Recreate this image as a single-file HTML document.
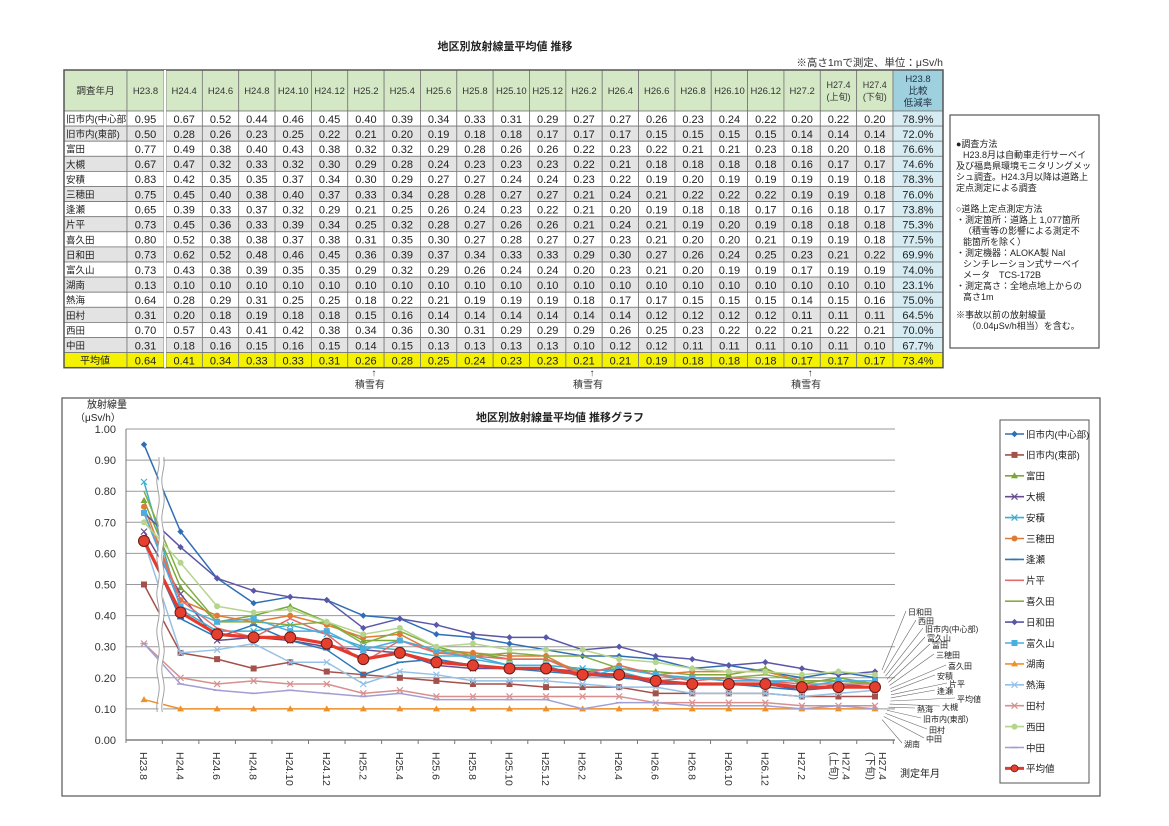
<!DOCTYPE html>
<html><head><meta charset="utf-8">
<style>
html,body{margin:0;padding:0;background:#fff;}
svg{display:block;font-family:"Liberation Sans","Noto Sans CJK JP",sans-serif;}
</style></head>
<body>
<svg id="root" width="1169" height="826" viewBox="0 0 1169 826" xmlns="http://www.w3.org/2000/svg">
<rect x="0" y="0" width="1169" height="826" fill="#fff"/>
<text x="505" y="50" font-size="11" font-weight="bold" text-anchor="middle" fill="#222">地区別放射線量平均値 推移</text>
<text x="943" y="66" font-size="10.5" text-anchor="end" fill="#333">※高さ1mで測定、単位：μSv/h</text>
<g id="table"></g>
<g>
<rect x="950" y="115" width="149" height="233" fill="#fff" stroke="#555" stroke-width="1.2"/>
<g font-size="9" fill="#222">
<text x="956" y="147">●調査方法</text>
<text x="963" y="158">H23.8月は自動車走行サーベイ</text>
<text x="956" y="169">及び福島県環境モニタリングメッ</text>
<text x="956" y="180">シュ調査。H24.3月以降は道路上</text>
<text x="956" y="191">定点測定による調査</text>
<text x="956" y="212">○道路上定点測定方法</text>
<text x="956" y="223">・測定箇所：道路上 1,077箇所</text>
<text x="963" y="234">（積雪等の影響による測定不</text>
<text x="963" y="245">能箇所を除く）</text>
<text x="956" y="256">・測定機器：ALOKA製 NaI</text>
<text x="963" y="267">シンチレーション式サーベイ</text>
<text x="963" y="278">メータ　TCS-172B</text>
<text x="956" y="289">・測定高さ：全地点地上からの</text>
<text x="963" y="300">高さ1m</text>
<text x="956" y="318">※事故以前の放射線量</text>
<text x="967" y="329">（0.04μSv/h相当）を含む。</text>
</g></g>
<g id="snow"></g>
<rect x="62" y="398" width="1038" height="398" fill="none" stroke="#555" stroke-width="1.2"/>
<text x="560" y="421" font-size="11" font-weight="bold" text-anchor="middle" fill="#222">地区別放射線量平均値 推移グラフ</text>
<text x="87" y="408" font-size="10" fill="#222">放射線量</text>
<text x="75" y="421" font-size="10" fill="#222">（μSv/h）</text>
<text x="900" y="777" font-size="10" fill="#222">測定年月</text>
<g id="chart"></g>
<g id="legend"><rect x="1000" y="420" width="89" height="363" fill="#fff" stroke="#555"/></g>
<g id="callouts"></g>
</svg>
<script>
const cats=["H23.8","H24.4","H24.6","H24.8","H24.10","H24.12","H25.2","H25.4","H25.6","H25.8","H25.10","H25.12","H26.2","H26.4","H26.6","H26.8","H26.10","H26.12","H27.2","H27.4(上旬)","H27.4(下旬)"];
const names=["旧市内(中心部)","旧市内(東部)","富田","大槻","安積","三穂田","逢瀬","片平","喜久田","日和田","富久山","湖南","熱海","田村","西田","中田","平均値"];
const sChushin=[0.95,0.67,0.52,0.44,0.46,0.45,0.40,0.39,0.34,0.33,0.31,0.29,0.27,0.27,0.26,0.23,0.24,0.22,0.20,0.22,0.20];
const sToubu=[0.50,0.28,0.26,0.23,0.25,0.22,0.21,0.20,0.19,0.18,0.18,0.17,0.17,0.17,0.15,0.15,0.15,0.15,0.14,0.14,0.14];
const sTomita=[0.77,0.49,0.38,0.40,0.43,0.38,0.32,0.32,0.29,0.28,0.26,0.26,0.22,0.23,0.22,0.21,0.21,0.23,0.18,0.20,0.18];
const sOtsuki=[0.67,0.47,0.32,0.33,0.32,0.30,0.29,0.28,0.24,0.23,0.23,0.23,0.22,0.21,0.18,0.18,0.18,0.18,0.16,0.17,0.17];
const sAsaka=[0.83,0.42,0.35,0.35,0.37,0.34,0.30,0.29,0.27,0.27,0.24,0.24,0.23,0.22,0.19,0.20,0.19,0.19,0.19,0.19,0.18];
const sMihota=[0.75,0.45,0.40,0.38,0.40,0.37,0.33,0.34,0.28,0.28,0.27,0.27,0.21,0.24,0.21,0.22,0.22,0.22,0.19,0.19,0.18];
const sOuse=[0.65,0.39,0.33,0.37,0.32,0.29,0.21,0.25,0.26,0.24,0.23,0.22,0.21,0.20,0.19,0.18,0.18,0.17,0.16,0.18,0.17];
const sKatahira=[0.73,0.45,0.36,0.33,0.39,0.34,0.25,0.32,0.28,0.27,0.26,0.26,0.21,0.24,0.21,0.19,0.20,0.19,0.18,0.18,0.18];
const sKikuta=[0.80,0.52,0.38,0.38,0.37,0.38,0.31,0.35,0.30,0.27,0.28,0.27,0.27,0.23,0.21,0.20,0.20,0.21,0.19,0.19,0.18];
const sHiwada=[0.73,0.62,0.52,0.48,0.46,0.45,0.36,0.39,0.37,0.34,0.33,0.33,0.29,0.30,0.27,0.26,0.24,0.25,0.23,0.21,0.22];
const sFukuyama=[0.73,0.43,0.38,0.39,0.35,0.35,0.29,0.32,0.29,0.26,0.24,0.24,0.20,0.23,0.21,0.20,0.19,0.19,0.17,0.19,0.19];
const sKonan=[0.13,0.10,0.10,0.10,0.10,0.10,0.10,0.10,0.10,0.10,0.10,0.10,0.10,0.10,0.10,0.10,0.10,0.10,0.10,0.10,0.10];
const sAtami=[0.64,0.28,0.29,0.31,0.25,0.25,0.18,0.22,0.21,0.19,0.19,0.19,0.18,0.17,0.17,0.15,0.15,0.15,0.14,0.15,0.16];
const sTamura=[0.31,0.20,0.18,0.19,0.18,0.18,0.15,0.16,0.14,0.14,0.14,0.14,0.14,0.14,0.12,0.12,0.12,0.12,0.11,0.11,0.11];
const sNishita=[0.70,0.57,0.43,0.41,0.42,0.38,0.34,0.36,0.30,0.31,0.29,0.29,0.29,0.26,0.25,0.23,0.22,0.22,0.21,0.22,0.21];
const sNakata=[0.31,0.18,0.16,0.15,0.16,0.15,0.14,0.15,0.13,0.13,0.13,0.13,0.10,0.12,0.12,0.11,0.11,0.11,0.10,0.11,0.10];
const sAverage=[0.64,0.41,0.34,0.33,0.33,0.31,0.26,0.28,0.25,0.24,0.23,0.23,0.21,0.21,0.19,0.18,0.18,0.18,0.17,0.17,0.17];
const ratios=["78.9%","72.0%","76.6%","74.6%","78.3%","76.0%","73.8%","75.3%","77.5%","69.9%","74.0%","23.1%","75.0%","64.5%","70.0%","67.7%","73.4%"];
const yTicks=[0,0.1,0.2,0.3,0.4,0.5,0.6,0.7,0.8,0.9,1.0];
const series=[sChushin,sToubu,sTomita,sOtsuki,sAsaka,sMihota,sOuse,sKatahira,sKikuta,sHiwada,sFukuyama,sKonan,sAtami,sTamura,sNishita,sNakata,sAverage];
const colors=["#2f6eb5","#a4514c","#7aa63a","#6a4c8e","#3eaed0","#e07b35","#2b78b8","#e66a6a","#86ad45","#5b57a8","#4aaee0","#f0902a","#95c1e6","#d7908e","#b5d58c","#a39ed2","#e43a2e"];
const markers=["diamond","square","triangle","x","x","circle","plus","none","none","diamond","square","triangle","x","x","circle","plus","big"];
const NS="http://www.w3.org/2000/svg";
function mk(tag,attrs,parent){const e=document.createElementNS(NS,tag);for(const k in attrs)e.setAttribute(k,attrs[k]);parent.appendChild(e);return e;}
// ---------- table ----------
const tbl=document.getElementById('table');
const rowTop=111,rowH=15.1,hdrTop=70;
const colEdges=[64,127,164];
for(let k=0;k<=20;k++)colEdges.push(166+k*36.35);
colEdges.push(943);
function cellRect(x1,x2,y1,y2,fill){return mk('rect',{x:x1,y:y1,width:x2-x1,height:y2-y1,fill:fill,stroke:'#777','stroke-width':0.8},tbl);}
// header
const hdrs=["調査年月"].concat(cats);
for(let j=0;j<hdrs.length;j++){
  let x1,x2;
  if(j===0){x1=64;x2=127;}else if(j===1){x1=127;x2=164;}else{x1=colEdges[j+1];x2=colEdges[j+2];}
  const r=cellRect(x1,x2,hdrTop,rowTop,'#d5e8c6');
  
  
  const label=hdrs[j];
  const m=label.match(/^(H27\.4)\((.+)\)$/);
  if(m){
    const t1=mk('text',{x:(x1+x2)/2,y:88,'font-size':9,'text-anchor':'middle',fill:'#333'},tbl);t1.textContent=m[1];
    const t2=mk('text',{x:(x1+x2)/2,y:100,'font-size':9,'text-anchor':'middle',fill:'#333'},tbl);t2.textContent='('+m[2]+')';
    
    
  }else{
    const t=mk('text',{x:(x1+x2)/2,y:94,'font-size':j===0?9.5:9.5,'text-anchor':'middle',fill:'#333'},tbl);t.textContent=label;
    
    
  }
}
const rh=cellRect(893,943,hdrTop,rowTop,'#9fd0de');


[["H23.8",82],["比較",94],["低減率",106]].forEach(a=>{const t=mk('text',{x:918,y:a[1],'font-size':9.5,'text-anchor':'middle',fill:'#234'},tbl);t.textContent=a[0];});
// body rows
for(let r=0;r<17;r++){
  const y1=rowTop+r*rowH,y2=y1+rowH;
  const isAvg=r===16;
  const bg=isAvg?'#f4f200':(r%2===1?'#e3e3e3':'#fff');
  const lc=cellRect(64,127,y1,y2,bg);
  
  
  const lt=mk('text',{x:isAvg?95:66,y:y1+11.5,'font-size':isAvg?10:9.5,'text-anchor':isAvg?'middle':'start',fill:'#222'},tbl);
  lt.textContent=names[r];
  
  
  for(let i=0;i<21;i++){
    let x1,x2;
    if(i===0){x1=127;x2=164;}else{x1=colEdges[i+2];x2=colEdges[i+3];}
    const c=cellRect(x1,x2,y1,y2,bg);
    
    
    const t=mk('text',{x:(x1+x2)/2,y:y1+11.8,'font-size':11,'text-anchor':'middle',fill:'#222'},tbl);
    t.textContent=series[r][i].toFixed(2);
  }
  const rc=cellRect(893,943,y1,y2,isAvg?'#f4f200':'#d6ecf2');
  
  
  const rt=mk('text',{x:918,y:y1+11.8,'font-size':11,'text-anchor':'middle',fill:'#222'},tbl);
  rt.textContent=ratios[r];
}
mk('rect',{x:64,y:hdrTop,width:879,height:rowTop+17*rowH-hdrTop,fill:'none',stroke:'#555','stroke-width':1.5},tbl);
mk('rect',{x:164,y:hdrTop,width:2,height:rowTop+17*rowH-hdrTop,fill:'#fff'},tbl);
// snow notes
const snowCols=["H25.2","H26.2","H27.2"];
const snowG=document.getElementById('snow');
snowCols.forEach(c=>{
  const i=cats.indexOf(c);
  const cx=(colEdges[i+2]+colEdges[i+3])/2+8;
  const a=mk('text',{x:cx,y:376,'font-size':10,'text-anchor':'middle',fill:'#333'},snowG);a.textContent='↑';
  const t=mk('text',{x:cx-4,y:388,'font-size':10,'text-anchor':'middle',fill:'#333'},snowG);t.textContent='積雪有';
  
  
});
// ---------- chart ----------
const ch=document.getElementById('chart');
const X=i=>144+i*36.55;
const Y=v=>740-v*311;
yTicks.forEach(v=>{
  const g=mk('line',{x1:126,x2:895,y1:Y(v),y2:Y(v),stroke:v===0?'#666':'#999','stroke-width':v===0?1.2:1},ch);
  
  
  const t=mk('text',{x:116,y:Y(v)+4,'font-size':11,'text-anchor':'end',fill:'#333'},ch);
  t.textContent=v.toFixed(2);
  
  
});
mk('line',{x1:126,x2:126,y1:Y(1),y2:Y(0)+3,stroke:'#777'},ch);
cats.forEach((c,i)=>{
  mk('line',{x1:X(i)+18.3,x2:X(i)+18.3,y1:Y(0),y2:Y(0)+4,stroke:'#777'},ch);
  const m=c.match(/^(H27\.4)\((.+)\)$/);
  if(m){
    const t=mk('text',{x:X(i)+4,y:752,'font-size':10.5,fill:'#333',transform:`rotate(90 ${X(i)+4} 752)`},ch);t.textContent=m[1];
    
    
    const t2=mk('text',{x:X(i)-8,y:752,'font-size':10.5,fill:'#333',transform:`rotate(90 ${X(i)-8} 752)`},ch);t2.textContent='('+m[2]+')';
  }else{
    const t=mk('text',{x:X(i)-4,y:752,'font-size':10.5,fill:'#333',transform:`rotate(90 ${X(i)-4} 752)`},ch);t.textContent=c;
    
    
  }
});
function marker(type,x,y,col,parent){
  if(type==='diamond')mk('path',{d:`M${x} ${y-3.2}L${x+3.2} ${y}L${x} ${y+3.2}L${x-3.2} ${y}Z`,fill:col},parent);
  else if(type==='square')mk('rect',{x:x-3,y:y-3,width:6,height:6,fill:col},parent);
  else if(type==='triangle')mk('path',{d:`M${x} ${y-3.5}L${x+3.5} ${y+2.5}L${x-3.5} ${y+2.5}Z`,fill:col},parent);
  else if(type==='x')mk('path',{d:`M${x-3} ${y-3}L${x+3} ${y+3}M${x+3} ${y-3}L${x-3} ${y+3}`,stroke:col,'stroke-width':1.2},parent);
  else if(type==='circle')mk('circle',{cx:x,cy:y,r:3,fill:col},parent);
  else if(type==='plus')mk('path',{d:`M${x-3.5} ${y}L${x+3.5} ${y}`,stroke:col,'stroke-width':1.5},parent);
  else if(type==='big')mk('circle',{cx:x,cy:y,r:5.5,fill:'#e5402f',stroke:'#6a1a14','stroke-width':1},parent);
}
series.forEach((vals,s)=>{
  const g=mk('g',{},ch);
  
  
  const pts=vals.map((v,i)=>X(i)+','+Y(v)).join(' ');
  const pl=mk('polyline',{points:pts,fill:'none',stroke:colors[s],'stroke-width':s===16?3.2:1.5,'stroke-linejoin':'round'},g);
  
  
  vals.forEach((v,i)=>marker(markers[s],X(i),Y(v),colors[s],g));
});
// axis break
const br=mk('g',{},ch);


let w1='',w2='';
for(let y=457;y<=712;y+=3){const dx=Math.sin(y/6)*1.2;w1+=(y===457?'M':'L')+(158+dx)+' '+y;w2+=(y===457?'M':'L')+(163+dx)+' '+y;}
mk('rect',{x:158.5,y:457,width:4.5,height:255,fill:'#fff'},br);
mk('path',{d:w1,fill:'none',stroke:'#999','stroke-width':0.9},br);
mk('path',{d:w2,fill:'none',stroke:'#999','stroke-width':0.9},br);
// legend
const lg=document.getElementById('legend');
names.forEach((n,s)=>{
  const y=434+s*20.9;
  const g=mk('g',{},lg);
  
  
  mk('line',{x1:1005,x2:1024,y1:y,y2:y,stroke:colors[s],'stroke-width':s===16?3:1.6},g);
  if(markers[s]==='big')mk('circle',{cx:1014.5,cy:y,r:3.5,fill:'#e5402f',stroke:'#6a1a14','stroke-width':0.8},g);
  else marker(markers[s],1014.5,y,colors[s],g);
  const t=mk('text',{x:1026,y:y+3.8,'font-size':9.5,fill:'#222'},g);t.textContent=n;
});
// callouts
const co=document.getElementById('callouts');
const callouts=[["日和田",908,615],["西田",918,624],["旧市内(中心部)",925,632],["富久山",927,641],["富田",932,648],["三穂田",936,658],["喜久田",948,669],["安積",937,679],["片平",949,687],["逢瀬",937,694],["平均値",957,702],["大槻",942,710],["熱海",917,712],["旧市内(東部)",923,722],["田村",929,733],["中田",926,742],["湖南",904,747]];
callouts.forEach((c,k)=>{
  const tx=c[1],ty=c[2];
  const py=670+k*3.1;
  const px=882+Math.sin(k/16*Math.PI)*9;
  mk('line',{x1:tx-2,y1:ty-4,x2:px,y2:py,stroke:'#666','stroke-width':0.6},co);
  const t=mk('text',{x:tx,y:ty,'font-size':8,fill:'#222'},co);t.textContent=c[0];
  
  
});
</script>
</body></html>
